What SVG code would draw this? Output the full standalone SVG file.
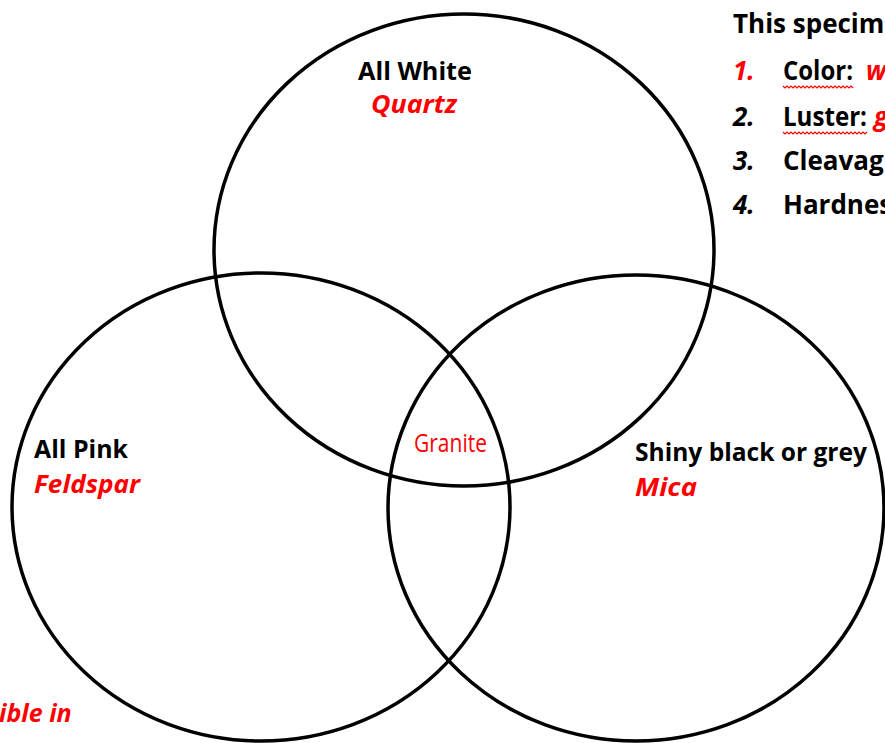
<svg xmlns="http://www.w3.org/2000/svg" width="885" height="743" viewBox="0 0 885 743">
<defs>
<style>
.circ{fill:none;stroke:#000;stroke-width:3.5}
.lbl{font-family:"Open Sans","Noto Sans","Liberation Sans",sans-serif;font-weight:bold;font-size:25px;fill:#000}
.lst{font-size:26px}
.red{fill:#FF0000}
.it{font-style:italic}
.reg{font-weight:normal}
.sq{fill:none;stroke:#FF0000;stroke-width:1.2}
</style>
</defs>
<g id="connectors"></g>
<g id="circle-white"><ellipse class="circ" cx="464" cy="250" rx="250" ry="236"/></g>
<g id="circle-pink"><ellipse class="circ" cx="261" cy="507" rx="249" ry="234"/></g>
<g id="circle-black"><ellipse class="circ" cx="636" cy="508" rx="248" ry="233"/></g>
<g id="label-white">
<text class="lbl" x="358" y="80" textLength="114" lengthAdjust="spacingAndGlyphs">All White</text>
<text class="lbl red it" x="371" y="113" textLength="86" lengthAdjust="spacingAndGlyphs">Quartz</text>
</g>
<g id="label-pink">
<text class="lbl" x="34" y="458" textLength="94" lengthAdjust="spacingAndGlyphs">All Pink</text>
<text class="lbl red it" x="34" y="493" textLength="106" lengthAdjust="spacingAndGlyphs">Feldspar</text>
</g>
<g id="label-black">
<text class="lbl" x="635" y="461" textLength="232" lengthAdjust="spacingAndGlyphs">Shiny black or grey</text>
<text class="lbl red it" x="635" y="496" textLength="62" lengthAdjust="spacingAndGlyphs">Mica</text>
</g>
<g id="label-granite">
<text class="lbl red reg" x="414" y="452" font-size="20" textLength="73" lengthAdjust="spacingAndGlyphs">Granite</text>
</g>
<g id="list">
<text class="lbl lst" x="733" y="33">This specim</text>
<text class="lbl lst red it" x="733" y="80">1.</text>
<text class="lbl lst" x="783" y="80" textLength="70" lengthAdjust="spacingAndGlyphs">Color:</text>
<text class="lbl lst red it" x="866" y="80">w</text>
<path class="sq" d="M783 86 l2 2 l2 -2 l2 2 l2 -2 l2 2 l2 -2 l2 2 l2 -2 l2 2 l2 -2 l2 2 l2 -2 l2 2 l2 -2 l2 2 l2 -2 l2 2 l2 -2 l2 2 l2 -2 l2 2 l2 -2 l2 2 l2 -2 l2 2 l2 -2 l2 2 l2 -2 l2 2 l2 -2 l2 2 l2 -2 l2 2 l2 -2 l2 2"/>
<text class="lbl lst it" x="733" y="126">2.</text>
<text class="lbl lst" x="783" y="126" textLength="84" lengthAdjust="spacingAndGlyphs">Luster:</text>
<text class="lbl lst red it" x="874" y="126">g</text>
<path class="sq" d="M783 132 l2 2 l2 -2 l2 2 l2 -2 l2 2 l2 -2 l2 2 l2 -2 l2 2 l2 -2 l2 2 l2 -2 l2 2 l2 -2 l2 2 l2 -2 l2 2 l2 -2 l2 2 l2 -2 l2 2 l2 -2 l2 2 l2 -2 l2 2 l2 -2 l2 2 l2 -2 l2 2 l2 -2 l2 2 l2 -2 l2 2 l2 -2 l2 2 l2 -2 l2 2 l2 -2 l2 2 l2 -2 l2 2 l2 -2"/>
<text class="lbl lst it" x="733" y="170">3.</text>
<text class="lbl lst" x="783" y="170">Cleavag</text>
<text class="lbl lst it" x="733" y="214">4.</text>
<text class="lbl lst" x="783" y="214">Hardnes</text>
</g>
<g id="note">
<text class="lbl red it" x="-1" y="722">ible in</text>
</g>
</svg>
